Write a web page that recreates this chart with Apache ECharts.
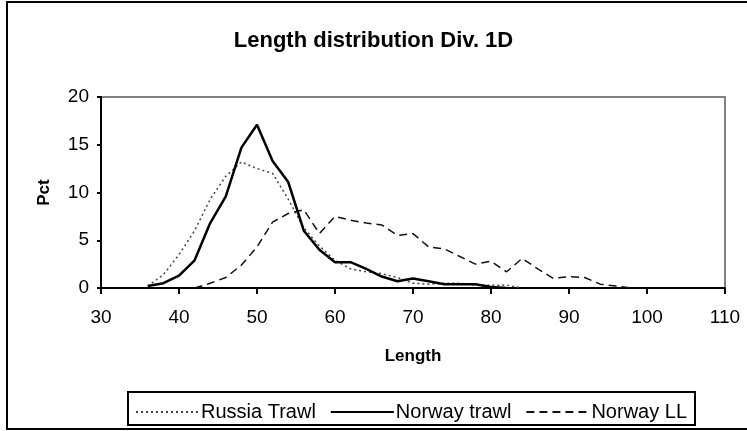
<!DOCTYPE html>
<html>
<head>
<meta charset="utf-8">
<script src="https://cdn.jsdelivr.net/npm/echarts@6/dist/echarts.min.js"></script>
<style>
  html, body { margin: 0; padding: 0; background: #fff; }
  #chart { width: 747px; height: 431px; }
</style>
</head>
<body>
<div id="chart"></div>
<script>
// length classes (cm), every 2 cm
var lengths = [36, 38, 40, 42, 44, 46, 48, 50, 52, 54, 56, 58, 60, 62, 64, 66,
               68, 70, 72, 74, 76, 78, 80, 82, 84, 86, 88, 90, 92, 94, 96, 98];

// percent per length class
var russiaTrawl = [0.2, 1.4, 3.5, 6.0, 9.3, 11.7, 13.2, 12.5, 12.0, 9.3, 6.3, 4.4, 2.9, 2.0, 1.7, 1.5,
                   1.1, 0.5, 0.4, 0.5, 0.5, 0.3, 0.3, 0.3, 0, null, null, null, null, null, null, null];
var norwayTrawl = [0.2, 0.5, 1.3, 2.9, 6.8, 9.6, 14.7, 17.1, 13.3, 11.1, 6.0, 4.0, 2.7, 2.7, 2.0, 1.2,
                   0.7, 1.0, 0.7, 0.4, 0.4, 0.4, 0.1, 0, null, null, null, null, null, null, null, null];
var norwayLL    = [null, null, null, 0, 0.5, 1.1, 2.4, 4.3, 6.9, 7.8, 8.2, 5.7, 7.5, 7.1, 6.8, 6.6,
                   5.5, 5.7, 4.3, 4.1, 3.3, 2.5, 2.8, 1.7, 3.1, 2.0, 1.0, 1.2, 1.1, 0.4, 0.2, 0];

var xTicks = [30, 40, 50, 60, 70, 80, 90, 100, 110];
var yTicks = [0, 5, 10, 15, 20];

function pairs(vals) {
    var out = [];
    for (var i = 0; i < lengths.length; i++) {
        if (vals[i] != null) out.push([lengths[i], vals[i]]);
    }
    return out;
}

var font = 'Liberation Sans, Arial, sans-serif';
var myChart = echarts.init(document.getElementById('chart'));

var option = {
    animation: false,
    backgroundColor: '#fff',
    title: {
        text: 'Length distribution Div. 1D',
        left: 'center',
        top: 25,
        textStyle: { fontFamily: font, fontSize: 22, fontWeight: 'bold', color: '#000' }
    },
    grid: {
        left: 101, right: 22, top: 97, bottom: 143,
        show: true, borderColor: '#808080', borderWidth: 2, backgroundColor: 'transparent'
    },
    legend: {
        left: 135,
        top: 402,
        padding: 0,
        itemWidth: 63,
        itemHeight: 14,
        itemGap: 14,
        itemStyle: { opacity: 0 },
        textStyle: { fontFamily: font, fontSize: 20, color: '#000', padding: [12, 0, 0, -3] },
        data: ['Russia Trawl', 'Norway trawl', 'Norway LL']
    },
    xAxis: {
        type: 'value',
        min: xTicks[0],
        max: xTicks[xTicks.length - 1],
        interval: 10,
        name: 'Length',
        nameLocation: 'middle',
        nameGap: 60,
        nameTextStyle: { fontFamily: font, fontSize: 17, fontWeight: 'bold', color: '#000' },
        axisLine: { lineStyle: { color: '#000', width: 2 } },
        axisTick: { length: 6, lineStyle: { color: '#000', width: 2 } },
        axisLabel: { fontFamily: font, fontSize: 19, color: '#000', margin: 20 },
        splitLine: { show: false }
    },
    yAxis: {
        type: 'value',
        min: yTicks[0],
        max: yTicks[yTicks.length - 1],
        interval: 5,
        name: 'Pct',
        nameLocation: 'middle',
        nameGap: 48,
        nameTextStyle: { fontFamily: font, fontSize: 17, fontWeight: 'bold', color: '#000' },
        axisLine: { show: true, lineStyle: { color: '#000', width: 2 } },
        axisTick: { show: true, length: 4, lineStyle: { color: '#000', width: 2 } },
        axisLabel: { fontFamily: font, fontSize: 19, color: '#000', margin: 12, padding: [8, 0, 0, 0] },
        splitLine: { show: false }
    },
    graphic: [
        { type: 'rect', shape: { x: 7, y: 2, width: 760, height: 427 },
          style: { fill: 'none', stroke: '#000', lineWidth: 2 }, silent: true },
        { type: 'rect', shape: { x: 128, y: 392, width: 567, height: 33 },
          style: { fill: 'none', stroke: '#000', lineWidth: 2 }, silent: true }
    ],
    series: [
        {
            name: 'Russia Trawl', type: 'line', symbol: 'none',
            data: pairs(russiaTrawl),
            lineStyle: { color: '#444', width: 1.5, type: [2, 3] },
            itemStyle: { color: '#444' }
        },
        {
            name: 'Norway trawl', type: 'line', symbol: 'none',
            data: pairs(norwayTrawl),
            lineStyle: { color: '#000', width: 2.5 },
            itemStyle: { color: '#000' }
        },
        {
            name: 'Norway LL', type: 'line', symbol: 'none',
            data: pairs(norwayLL),
            lineStyle: { color: '#111', width: 1.5, type: [8, 5] },
            itemStyle: { color: '#111' }
        }
    ]
};
myChart.setOption(option);
</script>
</body>
</html>
